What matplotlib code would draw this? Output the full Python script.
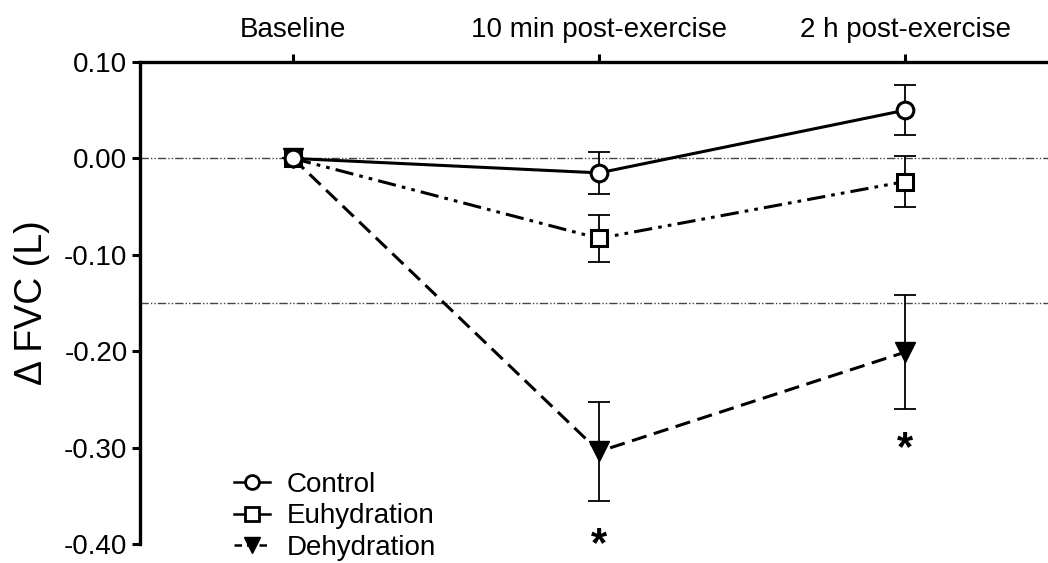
import matplotlib
matplotlib.use("Agg")
import matplotlib.pyplot as plt
from matplotlib.lines import Line2D

plt.rcParams['font.family'] = ['Liberation Sans', 'DejaVu Sans']
plt.rcParams['mathtext.fontset'] = 'custom'
plt.rcParams['mathtext.rm'] = 'Liberation Sans'
plt.rcParams['mathtext.bf'] = 'Liberation Sans:bold'

timepoints = ["Baseline", "10 min post-exercise", "2 h post-exercise"]
control = [0.0, -0.015, 0.050]
control_se = [0.0, 0.022, 0.026]
euhydration = [0.0, -0.083, -0.024]
euhydration_se = [0.0, 0.024, 0.026]
dehydration = [0.0, -0.304, -0.201]
dehydration_se = [0.0, 0.051, 0.059]
ref_lines = [0.0, -0.15]
star_x = [1, 2]
star_y = [-0.40, -0.30]
yticks = [0.10, 0.00, -0.10, -0.20, -0.30, -0.40]

fig = plt.figure(figsize=(10.48, 5.63), dpi=100)
ax = fig.add_axes([140/1048, 1-544/563, 1-140/1048, (544-62)/563])

x = list(range(len(timepoints)))

for yv in ref_lines:
    ax.axhline(yv, color='#444444', lw=1.0, dashes=(6, 1.5, 1, 1.5, 1, 1.5), zorder=1)

series = [
    (dehydration, dehydration_se, dict(dashes=(5, 2.5), marker='v', ms=14, mfc='black', mew=1), 3),
    (euhydration, euhydration_se, dict(dashes=(6, 2, 1.2, 2, 1.2, 2), marker='s', ms=11.5, mfc='white', mew=2.2), 4),
    (control, control_se, dict(linestyle='-', marker='o', ms=12, mfc='white', mew=2.2), 5),
]
for vals, se, style, z in series:
    ax.errorbar(x, vals, yerr=se, fmt='none', ecolor='black', elinewidth=1.3,
                capsize=8, capthick=1.3, zorder=z)
    ax.plot(x, vals, color='black', lw=2.2, mec='black', zorder=z + 0.5, **style)

for sx, sy in zip(star_x, star_y):
    ax.text(sx, sy, r'$\mathbf{*}$', ha='center', va='center', fontsize=30,
            clip_on=False)

ax.set_xlim(-0.5, 2.467)
ax.set_ylim(-0.40, 0.10)
ax.set_yticks(yticks)
ax.set_yticklabels([f"{v:.2f}" for v in yticks])
ax.xaxis.tick_top()
ax.set_xticks(x)
ax.set_xticklabels(timepoints)

for s in ['right', 'bottom']:
    ax.spines[s].set_visible(False)
for s in ['left', 'top']:
    ax.spines[s].set_linewidth(2.4)
ax.tick_params(axis='y', direction='out', length=6, width=2.2, labelsize=20, pad=3)
ax.tick_params(axis='x', direction='out', length=6, width=2.2, labelsize=20, pad=8)

ax.set_ylabel('Δ FVC (L)', fontsize=27, labelpad=10)

handles = [
    Line2D([], [], color='black', lw=1.8, marker='o', ms=10, mfc='white', mec='black', mew=2),
    Line2D([], [], color='black', lw=1.8, marker='s', ms=10, mfc='white', mec='black', mew=2),
    Line2D([], [], color='black', lw=1.8, dashes=(3, 2), marker='v', ms=12, mfc='black', mec='black'),
]
leg = ax.legend(handles, ["Control", "Euhydration", "Dehydration"], loc='lower left',
                bbox_to_anchor=(234/1048, 2/563), bbox_transform=fig.transFigure,
                frameon=False, fontsize=20, handlelength=1.3, handletextpad=0.6,
                labelspacing=0.2, borderpad=0, borderaxespad=0)

fig.savefig("out.png", dpi=100)
